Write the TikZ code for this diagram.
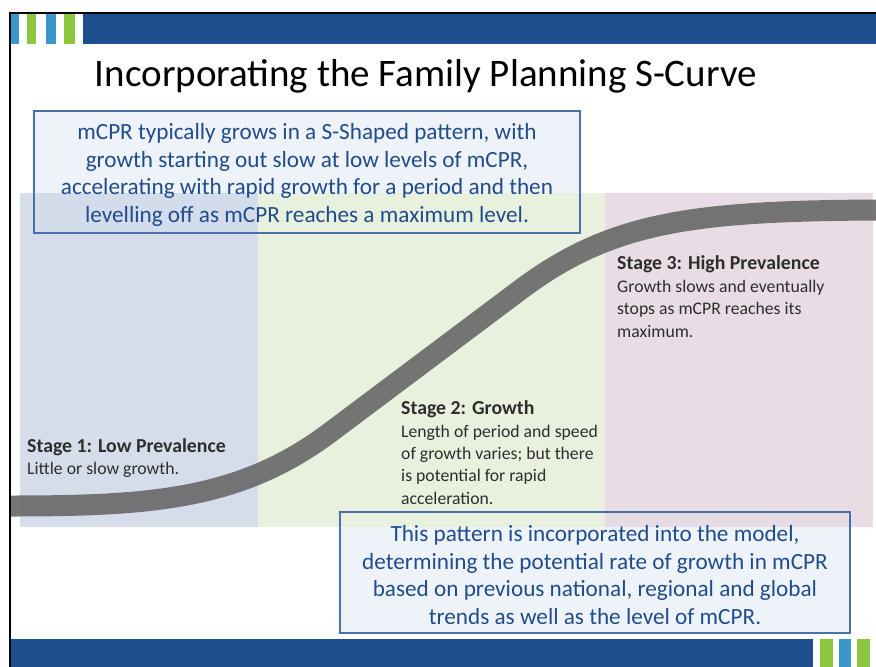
\documentclass[tikz,border=0pt]{standalone}
\usepackage{fontspec}
\setmainfont{Carlito}
\definecolor{barblue}{RGB}{31,78,142}
\definecolor{stripeblue}{RGB}{58,150,203}
\definecolor{stripegreen}{RGB}{141,198,63}
\definecolor{bandblue}{RGB}{210,219,234}
\definecolor{bandgreen}{RGB}{232,241,220}
\definecolor{bandpink}{RGB}{231,219,227}
\definecolor{curvegray}{RGB}{104,104,104}
\definecolor{boxfill}{RGB}{238,243,250}
\definecolor{boxline}{RGB}{74,112,172}
\definecolor{boxtext}{RGB}{33,76,140}
\definecolor{stagetext}{RGB}{45,45,45}
\tikzset{
  infobox/.style={draw=boxline, line width=1.1pt, inner sep=0pt},
  infotext/.style={inner sep=0pt, align=center,
     text=boxtext, font=\fontsize{23.2}{27.4}\selectfont},
  stagehead/.style={anchor=base west, inner sep=0pt, text=stagetext,
     font=\fontsize{19.8}{22}\selectfont\bfseries},
  stagebody/.style={anchor=base west, inner sep=0pt, align=left, text=stagetext,
     font=\fontsize{17.7}{22.2}\selectfont},
  titletext/.style={anchor=base, inner sep=0pt, text=black,
     font=\fontsize{39}{42}\selectfont},
  scurve/.style={draw=curvegray, line width=21pt, opacity=0.9}
}
\begin{document}
\begin{tikzpicture}[x=1pt,y=-1pt]
\useasboundingbox (0,0) rectangle (876,667);
\fill[white] (0,0) rectangle (876,667);
% box backgrounds (drawn under the bands)
\fill[boxfill] (34,111) rectangle (580,233);
\fill[boxfill] (340,512) rectangle (850,633);
% bands
\fill[bandblue, opacity=0.93] (20,193) rectangle (258,527);
\fill[bandgreen, opacity=0.93] (258,193) rectangle (605,527);
\fill[bandpink, opacity=0.93] (605,193) rectangle (873,527);
% S-curve
\coordinate (c0) at (10,506);
\coordinate (c1) at (330,432.5);
\coordinate (c2) at (520,290);
\coordinate (c3) at (876,210);
\draw[scurve] (c0) .. controls (150,506) and (240,500) .. (c1)
  -- (c2) .. controls (610,222.5) and (690,211) .. (c3);
% stage texts
\node[stagehead] (s1h) at (27,452) {Stage 1: Low Prevalence};
\node[stagebody] (s1b) at (27,474) {Little or slow growth.};
\node[stagehead] (s2h) at (401,414) {Stage 2: Growth};
\node[stagebody] (s2b) at (401,504) {Length of period and speed\\of growth varies; but there\\is potential for rapid\\acceleration.};
\node[stagehead] (s3h) at (617,269) {Stage 3: High Prevalence};
\node[stagebody] (s3b) at (617,337) {Growth slows and eventually\\stops as mCPR reaches its\\maximum.};
% info boxes
\node[infobox, minimum width=546pt, minimum height=122pt] (b1) at (307,172) {};
\node[infotext] (t1) at (307,175)
  {mCPR typically grows in a S-Shaped pattern, with\\growth starting out slow at low levels of mCPR,\\accelerating with rapid growth for a period and then\\levelling off as mCPR reaches a maximum level.};
\node[infobox, minimum width=510pt, minimum height=121pt] (b2) at (595,572.5) {};
\node[infotext] (t2) at (595,575)
  {This pattern is incorporated into the model,\\determining the potential rate of growth in mCPR\\based on previous national, regional and global\\trends as well as the level of mCPR.};
% title
\node[titletext] (title) at (426,86) {Incorporating the Family Planning S-Curve};
% top bar
\fill[barblue] (83,14) rectangle (876,44);
\fill[stripeblue] (11,14) rectangle (19,44);
\fill[stripegreen] (27,14) rectangle (36,44);
\fill[stripeblue] (46,14) rectangle (56,44);
\fill[stripegreen] (64,14) rectangle (75,44);
% bottom bar
\fill[barblue] (11,639) rectangle (813,667);
\fill[stripegreen] (820,639) rectangle (833,667);
\fill[stripeblue] (839,639) rectangle (851,667);
\fill[stripegreen] (857,639) rectangle (870,667);
% frame
\draw[black, line width=2pt] (10,667) -- (10,13) -- (876,13);
\end{tikzpicture}
\end{document}
